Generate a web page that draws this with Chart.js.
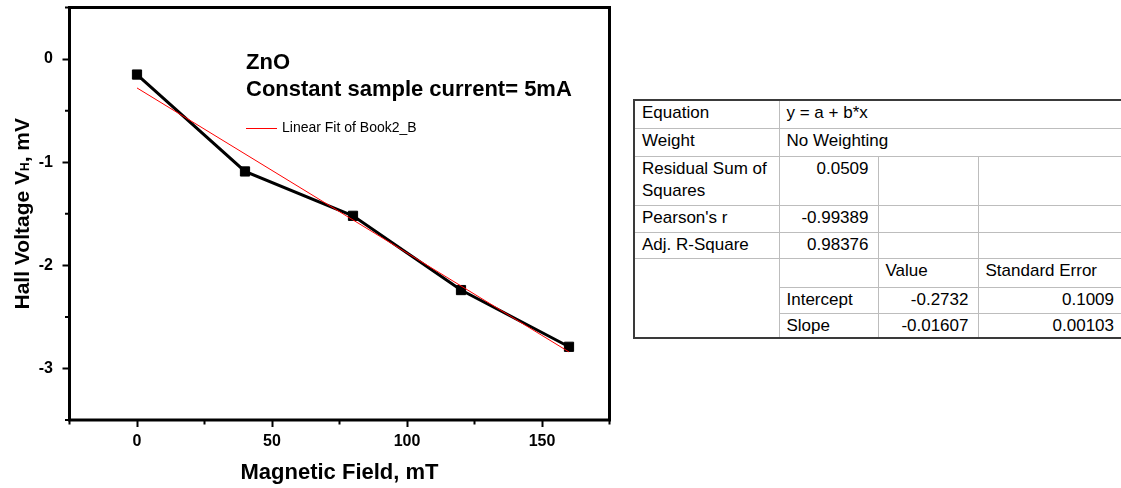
<!DOCTYPE html>
<html><head><meta charset="utf-8">
<script src="https://cdn.jsdelivr.net/npm/chart.js@4.4.1/dist/chart.umd.min.js"></script>
<style>
html,body{margin:0;padding:0;background:#fff;width:1121px;height:488px;overflow:hidden;}
#c{position:absolute;left:0;top:0;}
#fit{position:absolute;left:633px;top:99px;border-collapse:collapse;table-layout:fixed;width:490px;
  font-family:"Liberation Sans",Arial,sans-serif;font-size:17px;color:#000;background:#fff;border:2px solid #3a3a3a;}
#fit td{border:1px solid #bdbdbd;padding:1px 9px 0 7px;vertical-align:top;line-height:22px;white-space:pre-line;overflow:hidden;}
#fit td.num{text-align:right;}
</style></head>
<body>
<canvas id="c" width="1121" height="488"></canvas>
<table id="fit"></table>
<script>
// ---- data ----
const fieldMT = [0, 40, 80, 120, 160];
const hallVoltage = [-0.15, -1.09, -1.52, -2.24, -2.79];
const fitField = [0, 160];
const fitVoltage = [-0.28, -2.84];
const xMajorTicks = [0, 50, 100, 150];
const xMinorTicks = [-25, 25, 75, 125, 175];
const yMajorTicks = [0, -1, -2, -3];
const yMinorTicks = [0.5, -0.5, -1.5, -2.5, -3.5];
const fitStatLabels = ["Equation", "Weight", "Residual Sum of\nSquares", "Pearson's r", "Adj. R-Square"];
const fitStatValues = ["y = a + b*x", "No Weighting", "0.0509", "-0.99389", "0.98376"];
const paramHeaders = ["Value", "Standard Error"];
const paramNames = ["Intercept", "Slope"];
const paramValues = ["-0.2732", "-0.01607"];
const paramErrors = ["0.1009", "0.00103"];

// ---- table ----
const colW = [145, 99, 100, 146];
const rowH = [28, 28, 49, 27, 26, 29, 26, 25];
const tbl = document.getElementById('fit');
const cg = document.createElement('colgroup');
colW.forEach(w => { const c = document.createElement('col'); c.style.width = w + 'px'; cg.appendChild(c); });
tbl.appendChild(cg);
function cell(tr, text, cls, span, rspan) {
  const td = document.createElement('td');
  td.textContent = text;
  if (cls) td.className = cls;
  if (span) td.colSpan = span;
  if (rspan) td.rowSpan = rspan;
  tr.appendChild(td);
  return td;
}
let r = 0;
fitStatLabels.forEach((lab, i) => {
  const tr = document.createElement('tr'); tr.style.height = rowH[r++] + 'px';
  cell(tr, lab);
  if (i < 2) cell(tr, fitStatValues[i], '', 3);
  else { cell(tr, fitStatValues[i], 'num'); cell(tr, ''); cell(tr, ''); }
  tbl.appendChild(tr);
});
{
  const tr = document.createElement('tr'); tr.style.height = rowH[r++] + 'px';
  cell(tr, '', '', 1, 3); cell(tr, ''); cell(tr, paramHeaders[0]); cell(tr, paramHeaders[1]);
  tbl.appendChild(tr);
}
paramNames.forEach((n, i) => {
  const tr = document.createElement('tr'); tr.style.height = rowH[r++] + 'px';
  cell(tr, n); cell(tr, paramValues[i], 'num'); cell(tr, paramErrors[i], 'num');
  tbl.appendChild(tr);
});

// ---- chart ----
const FAM = '"Liberation Sans", Arial, sans-serif';
const annot = {
  id: 'annot',
  afterDraw(chart) {
    const ctx = chart.ctx, ca = chart.chartArea;
    const xs = chart.scales.x, ys = chart.scales.y;
    ctx.save();
    ctx.strokeStyle = '#000';
    ctx.lineWidth = 3;
    ctx.strokeRect(ca.left, ca.top, ca.right - ca.left, ca.bottom - ca.top);
    ctx.lineWidth = 2;
    ctx.beginPath();
    xMinorTicks.forEach(v => { const p = xs.getPixelForValue(v); ctx.moveTo(p, ca.bottom); ctx.lineTo(p, ca.bottom + 4.5); });
    yMinorTicks.forEach(v => { const p = ys.getPixelForValue(v); ctx.moveTo(ca.left - 4.5, p); ctx.lineTo(ca.left, p); });
    ctx.stroke();

    // annotation text
    ctx.fillStyle = '#000';
    ctx.textAlign = 'left';
    ctx.textBaseline = 'middle';
    ctx.font = 'bold 22px ' + FAM;
    ctx.fillText('ZnO', 246, 63);
    ctx.fillText('Constant sample current= 5mA', 246, 90);
    ctx.strokeStyle = '#ff0000';
    ctx.lineWidth = 1;
    ctx.beginPath(); ctx.moveTo(246, 128.5); ctx.lineTo(277, 128.5); ctx.stroke();
    ctx.font = '14px ' + FAM;
    ctx.fillText(chart.data.datasets[0].label, 282, 128);

    // y axis title with subscript
    ctx.translate(28.5, (ca.top + ca.bottom) / 2);
    ctx.rotate(-Math.PI / 2);
    ctx.textBaseline = 'alphabetic';
    const parts = [['Hall Voltage V', 'bold 21px ' + FAM], ['H', 'bold 12px ' + FAM], [', mV', 'bold 21px ' + FAM]];
    let total = 0;
    parts.forEach(p => { ctx.font = p[1]; total += ctx.measureText(p[0]).width; });
    let x = -total / 2;
    parts.forEach(p => { ctx.font = p[1]; ctx.fillText(p[0], x, 0); x += ctx.measureText(p[0]).width; });
    ctx.restore();
  }
};

new Chart(document.getElementById('c'), {
  type: 'scatter',
  data: {
    datasets: [
      { label: 'Linear Fit of Book2_B', data: fitField.map((x, i) => ({ x, y: fitVoltage[i] })),
        showLine: true, borderColor: '#ff0000', borderWidth: 1, pointRadius: 0, fill: false },
      { label: 'Book2_B', data: fieldMT.map((x, i) => ({ x, y: hallVoltage[i] })),
        showLine: true, borderColor: '#000', backgroundColor: '#000', borderWidth: 3,
        pointStyle: 'rect', pointRadius: 6.5, pointBorderWidth: 1, pointBorderColor: '#000', pointBackgroundColor: '#000' }
    ]
  },
  options: {
    responsive: false, animation: false, devicePixelRatio: 1,
    layout: { padding: { left: 0, top: 6, right: 511.5, bottom: 0 } },
    plugins: { legend: { display: false }, tooltip: { enabled: false } },
    scales: {
      x: {
        type: 'linear', position: 'bottom', min: -25, max: 175,
        afterBuildTicks: s => { s.ticks = xMajorTicks.map(v => ({ value: v })); },
        afterFit: s => { s.height = 68; s.paddingLeft = 0; s.paddingRight = 0; },
        grid: { display: true, drawOnChartArea: false, drawTicks: true, tickLength: 7, tickWidth: 2, tickColor: '#000', color: '#000' },
        border: { display: false },
        ticks: { color: '#000', font: { family: FAM, size: 16, weight: 'bold' }, padding: 5, maxRotation: 0, autoSkip: false, callback: v => String(v) },
        title: { display: true, text: 'Magnetic Field, mT', color: '#000', font: { family: FAM, size: 22, weight: 'bold', lineHeight: 1.2 }, padding: { top: 0, bottom: 2 } }
      },
      y: {
        type: 'linear', position: 'left', min: -3.5, max: 0.5,
        afterBuildTicks: s => { s.ticks = yMajorTicks.map(v => ({ value: v })); },
        afterFit: s => { s.width = 69.5; s.paddingTop = 0; s.paddingBottom = 0; },
        grid: { display: true, drawOnChartArea: false, drawTicks: true, tickLength: 7, tickWidth: 2, tickColor: '#000', color: '#000' },
        border: { display: false },
        ticks: { color: '#000', font: { family: FAM, size: 16, weight: 'bold' }, padding: 9.5, autoSkip: false, callback: v => String(v) }
      }
    }
  },
  plugins: [annot]
});
</script>
</body></html>
